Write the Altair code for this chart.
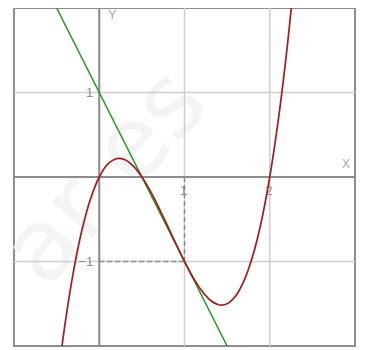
import altair as alt
import pandas as pd

# curve (cubic through (0,0), (0.5,0), (2,0), (1,-1))
curve_x = [-0.5, -0.4, -0.3, -0.2, -0.1, 0.0, 0.1, 0.2, 0.3, 0.4, 0.5, 0.6, 0.7,
           0.8, 0.9, 1.0, 1.1, 1.2, 1.3, 1.4, 1.5, 1.6, 1.7, 1.8, 1.9, 2.0, 2.1,
           2.2, 2.3]
curve_y = [-2.5, -1.728, -1.104, -0.616, -0.252, 0.0, 0.152, 0.216, 0.204, 0.128,
           0.0, -0.168, -0.364, -0.576, -0.792, -1.0, -1.188, -1.344, -1.456,
           -1.512, -1.5, -1.408, -1.224, -0.936, -0.532, 0.0, 0.672, 1.496, 2.484]

# tangent line
tangent_x = [-0.5, 1.5]
tangent_y = [2.0, -2.0]

# tangency point
pt_x = 1
pt_y = -1

grid_x = [0, 1, 2]
grid_y = [-1, 0, 1]
x_tick_vals = [1, 2]
x_tick_text = ["1", "2"]
y_tick_vals = [1, -1]
y_tick_text = ["1", "\u22121"]

xs = alt.Scale(domain=[-1, 3], nice=False, zero=False)
ys = alt.Scale(domain=[-2, 2], nice=False, zero=False)

FONT = "Liberation Sans"

curve_df = pd.DataFrame({"x": curve_x, "y": curve_y})
tan_df = pd.DataFrame({"x": tangent_x, "y": tangent_y})
gx_df = pd.DataFrame({"x": grid_x})
gy_df = pd.DataFrame({"y": grid_y})
ax_df = pd.DataFrame({"x": [0], "y": [0]})
dash_df = pd.DataFrame({"x": [0, pt_x], "y": [pt_y, 0], "x2": [pt_x, pt_x], "y2": [pt_y, pt_y]})
xt_df = pd.DataFrame({"x": x_tick_vals, "y": [0, 0], "t": x_tick_text})
yt_df = pd.DataFrame({"x": [0, 0], "y": y_tick_vals, "t": y_tick_text})
xl_df = pd.DataFrame({"x": [3], "y": [0], "t": ["X"]})
yl_df = pd.DataFrame({"x": [0], "y": [2], "t": ["Y"]})
one = pd.DataFrame({"t": ["ar es"]})

X = lambda f="x": alt.X(f + ":Q", scale=xs, axis=None)
Y = lambda f="y": alt.Y(f + ":Q", scale=ys, axis=None)

watermark = alt.Chart(one).mark_text(
    angle=312, fontSize=100, font="DejaVu Sans", color="#f4f4f4",
    align="center", baseline="middle"
).encode(x=alt.value(92), y=alt.value(170), text="t:N")

grid_v = alt.Chart(gx_df).mark_rule(color="#cdcdcd", strokeWidth=1.5).encode(x=X())
grid_h = alt.Chart(gy_df).mark_rule(color="#cdcdcd", strokeWidth=1.5).encode(y=Y())

axis_v = alt.Chart(ax_df).mark_rule(color="#8c8c8c", strokeWidth=2).encode(x=X())
axis_h = alt.Chart(ax_df).mark_rule(color="#8c8c8c", strokeWidth=2).encode(y=Y())

dashes = alt.Chart(dash_df).mark_rule(color="#8a8a8a", strokeWidth=1.5, strokeDash=[5, 3]).encode(
    x=X(), x2="x2:Q", y=Y(), y2="y2:Q")

xticks = alt.Chart(xt_df).mark_text(font=FONT, fontSize=13, color="#8c8c8c",
                                    align="center", baseline="alphabetic", dy=18, dx=-1).encode(
    x=X(), y=Y(), text="t:N")
yticks = alt.Chart(yt_df).mark_text(font=FONT, fontSize=13, color="#8c8c8c",
                                    align="right", baseline="middle", dx=-6).encode(
    x=X(), y=Y(), text="t:N")

xlabel = alt.Chart(xl_df).mark_text(font=FONT, fontSize=12, color="#a8a8a8",
                                    align="center", baseline="middle", dx=-9, dy=-13).encode(
    x=X(), y=Y(), text="t:N")
ylabel = alt.Chart(yl_df).mark_text(font=FONT, fontSize=12, color="#a8a8a8",
                                    align="center", baseline="middle", dx=13, dy=7).encode(
    x=X(), y=Y(), text="t:N")

tangent = alt.Chart(tan_df).mark_line(color="#1f9a1f", strokeWidth=1.5, clip=True).encode(
    x=X(), y=Y())

curve = alt.Chart(curve_df).mark_line(color="#a31c1c", strokeWidth=1.7, clip=True,
                                      interpolate="catmull-rom").encode(
    x=X(), y=Y(), order="x:Q")

chart = alt.layer(
    watermark, grid_v, grid_h, axis_v, axis_h, dashes, xticks, yticks, xlabel, ylabel,
    tangent, curve
).properties(
    width=341, height=338,
    autosize=alt.AutoSizeParams(type="none"),
    padding={"left": 6, "top": 0, "right": 2, "bottom": 2},
).configure_view(stroke="#8e8e8e", strokeWidth=2)

chart.save("out.html", embed_options={"renderer": "svg", "actions": False})
